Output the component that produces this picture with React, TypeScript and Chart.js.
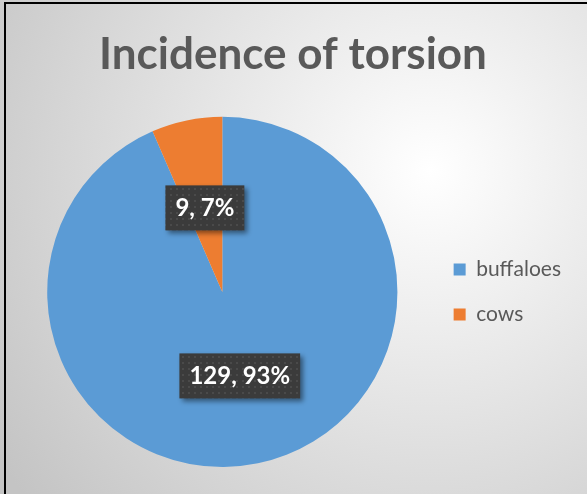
import React, { useEffect, useRef } from "react";
import { Chart, registerables } from "chart.js";

Chart.register(...registerables);

const categories = ["buffaloes", "cows"];
const values = [129, 9];
const colors = ["#5B9BD5", "#ED7D31"];
const titleText = "Incidence of torsion";

const FONT = "Lato, 'Open Sans', sans-serif";

function makePattern(ctx: CanvasRenderingContext2D) {
  const c = document.createElement("canvas");
  c.width = 6;
  c.height = 6;
  const p = c.getContext("2d")!;
  p.fillStyle = "#3b3b3b";
  p.fillRect(0, 0, 6, 6);
  p.fillStyle = "#4a4a4a";
  p.fillRect(2, 2, 2, 2);
  return ctx.createPattern(c, "repeat") || "#3b3b3b";
}

const labelPlugin = {
  id: "boxLabels",
  afterDatasetsDraw(chart: any) {
    const ctx: CanvasRenderingContext2D = chart.ctx;
    const meta = chart.getDatasetMeta(0);
    const data = chart.data.datasets[0].data as number[];
    const total = data.reduce((a, b) => a + b, 0);
    const pattern = makePattern(ctx);
    meta.data.forEach((arc: any, i: number) => {
      const { x, y, startAngle, endAngle, outerRadius } = arc.getProps(
        ["x", "y", "startAngle", "endAngle", "outerRadius"],
        true
      );
      const mid = (startAngle + endAngle) / 2;
      const r = outerRadius * 0.49;
      const cx = x + Math.cos(mid) * r;
      const cy = y + Math.sin(mid) * r;
      const text = `${data[i]}, ${Math.round((data[i] / total) * 100)}%`;
      ctx.save();
      ctx.font = `bold 24px ${FONT}`;
      const tw = ctx.measureText(text).width;
      const w = tw + 20;
      const h = 45;
      ctx.shadowColor = "rgba(0,0,0,0.45)";
      ctx.shadowBlur = 5;
      ctx.shadowOffsetX = 3;
      ctx.shadowOffsetY = 3;
      ctx.fillStyle = pattern as any;
      ctx.fillRect(cx - w / 2, cy - h / 2, w, h);
      ctx.shadowColor = "transparent";
      ctx.fillStyle = "#ffffff";
      ctx.textAlign = "center";
      ctx.textBaseline = "middle";
      ctx.fillText(text, cx, cy);
      ctx.restore();
    });
  },
};

export default function App() {
  const ref = useRef<HTMLCanvasElement>(null);
  useEffect(() => {
    if (!ref.current) return;
    const chart = new Chart(ref.current, {
      type: "pie",
      data: {
        labels: categories,
        datasets: [
          {
            data: values,
            backgroundColor: colors,
            borderWidth: 0,
          },
        ],
      },
      options: {
        animation: false,
        responsive: false,
        maintainAspectRatio: false,
        layout: { padding: { top: 20, left: 15, right: 16, bottom: 27 } },
        plugins: {
          tooltip: { enabled: false },
          title: {
            display: true,
            text: titleText,
            color: "#595959",
            font: { family: FONT, size: 44, weight: "bold", lineHeight: 1.2 },
            padding: { top: 8, bottom: 36 },
          },
          legend: {
            position: "right",
            fullSize: false,
            labels: {
              color: "#595959",
              boxWidth: 12,
              boxHeight: 12,
              padding: 24,
              font: { family: FONT, size: 21 },
            },
          },
        },
      },
      plugins: [labelPlugin],
    });
    return () => chart.destroy();
  }, []);

  return (
    <div
      style={{
        position: "fixed",
        left: 0,
        top: 0,
        width: 587,
        height: 494,
        overflow: "hidden",
        background:
          "radial-gradient(circle at 430px 170px, #ffffff 0px, #eeeeee 150px, #d4d4d4 380px, #c4c4c4 520px)",
      }}
    >
      <div style={{ position: "absolute", left: 4, top: 2, width: 583, height: 2, background: "#000" }} />
      <div style={{ position: "absolute", left: 4, top: 2, width: 2, height: 492, background: "#000" }} />
      <canvas ref={ref} width={587} height={494} style={{ position: "absolute", left: 0, top: 0 }} />
    </div>
  );
}
